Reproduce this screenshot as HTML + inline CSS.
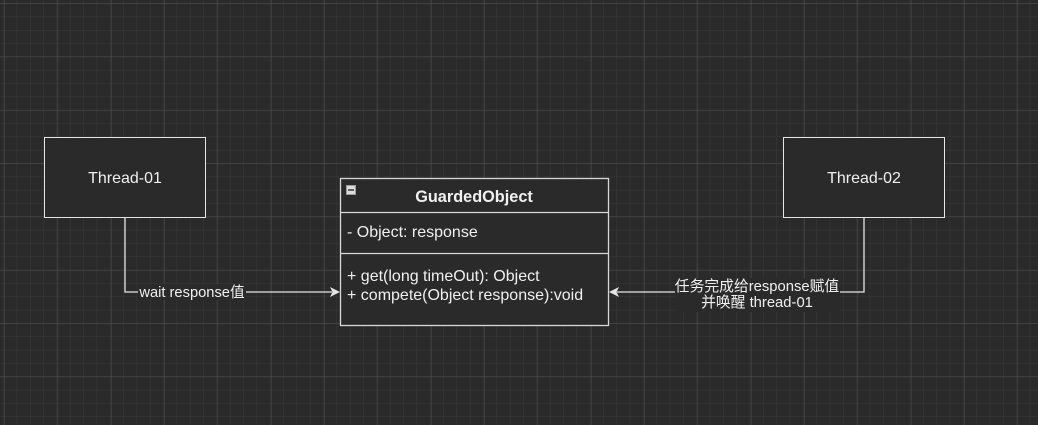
<!DOCTYPE html>
<html><head><style>
html,body{margin:0;padding:0;background:#2a2a2a;}
svg{display:block;}
text{font-family:"Liberation Sans","Noto Sans CJK SC",sans-serif;fill:#f0f0f0;}
</style></head><body>
<svg width="1038" height="425" viewBox="0 0 1038 425" xmlns="http://www.w3.org/2000/svg">
<defs>
<pattern id="minor" x="3.3" y="3.3" width="13.33" height="13.33" patternUnits="userSpaceOnUse">
<path d="M0 0H13.33M0 0V13.33" stroke="#3a3a3a" stroke-width="1" fill="none"/>
</pattern>
<pattern id="major" x="4.3" y="3.3" width="53.33" height="53.33" patternUnits="userSpaceOnUse">
<path d="M0 0H53.33M0 0V53.33" stroke="#525252" stroke-width="1" fill="none"/>
</pattern>
</defs>
<rect width="1038" height="425" fill="#2a2a2a"/>
<rect width="1038" height="425" fill="url(#minor)"/>
<rect width="1038" height="425" fill="url(#major)"/>

<rect x="44.5" y="137.5" width="161" height="80" fill="#2a2a2a" stroke="#e6e6e6"/>
<text x="125" y="183" font-size="16" text-anchor="middle">Thread-01</text>
<rect x="783.5" y="137.5" width="161" height="80" fill="#2a2a2a" stroke="#e6e6e6"/>
<text x="864" y="183" font-size="16" text-anchor="middle">Thread-02</text>

<rect x="340.5" y="178.5" width="268" height="147" fill="#2a2a2a" stroke="#d8d8d8" stroke-width="1.3"/>
<line x1="340.5" y1="212.5" x2="608.5" y2="212.5" stroke="#d8d8d8" stroke-width="1.3"/>
<line x1="340.5" y1="253.5" x2="608.5" y2="253.5" stroke="#d8d8d8" stroke-width="1.3"/>
<rect x="346.5" y="185.5" width="9" height="9" fill="#ddd" stroke="#999"/>
<line x1="348" y1="190" x2="354" y2="190" stroke="#333" stroke-width="1.5"/>
<text x="474" y="202" font-size="16.3" font-weight="bold" text-anchor="middle">GuardedObject</text>
<text x="347" y="237" font-size="16">- Object: response</text>
<text x="347" y="281" font-size="16">+ get(long timeOut): Object</text>
<text x="347" y="300" font-size="16">+ compete(Object response):void</text>

<polyline points="125,218 125,292 332,292" fill="none" stroke="#e6e6e6" stroke-width="1.3"/>
<path d="M340,292 L330,287 L332.5,292 L330,297 Z" fill="#e6e6e6"/>
<rect x="138" y="284" width="108" height="16" fill="#2a2a2a"/>
<text x="192" y="297" font-size="14.7" text-anchor="middle">wait response值</text>

<polyline points="864,218 864,292 617,292" fill="none" stroke="#e6e6e6" stroke-width="1.3"/>
<path d="M609,292 L619,287 L616.5,292 L619,297 Z" fill="#e6e6e6"/>
<rect x="675" y="278" width="165" height="34" fill="#2a2a2a"/>
<text x="757" y="291" font-size="14.8" text-anchor="middle">任务完成给response赋值</text>
<text x="757" y="307" font-size="14.8" text-anchor="middle">并唤醒 thread-01</text>
</svg>
</body></html>
